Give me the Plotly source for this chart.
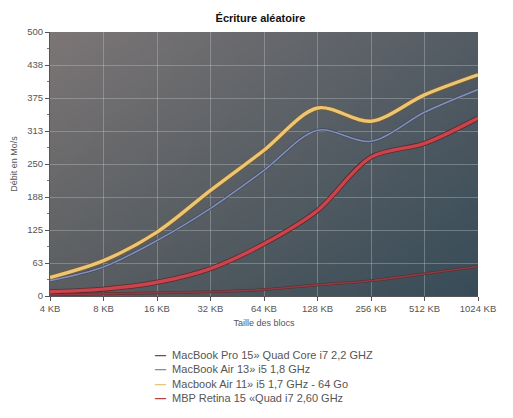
import base64, struct, zlib
import plotly.graph_objects as go

categories = ["4 KB", "8 KB", "16 KB", "32 KB", "64 KB", "128 KB", "256 KB", "512 KB", "1024 KB"]
pro15 = [2, 4, 6, 8, 12, 21, 29, 42, 56]
air13 = [29, 55, 105, 166, 238, 314, 293, 348, 391]
air11 = [35, 67, 121, 200, 276, 356, 331, 381, 419]
retina = [8, 13, 26, 52, 99, 162, 263, 289, 337]
ytick_vals = [0, 62.5, 125, 187.5, 250, 312.5, 375, 437.5, 500]
ytick_text = ["0", "63", "125", "188", "250", "313", "375", "438", "500"]
names = ["MacBook Pro 15» Quad Core i7 2,2 GHZ", "MacBook Air 13» i5 1,8 GHz",
         "Macbook Air 11» i5 1,7 GHz - 64 Go", "MBP Retina 15 «Quad i7 2,60 GHz"]


def gradient_png(w, h, tl, tr, bl, br):
    rows = b""
    for j in range(h):
        v = j / (h - 1)
        rows += b"\x00"
        for i in range(w):
            u = i / (w - 1)
            px = []
            for k in range(3):
                top = tl[k] * (1 - u) + tr[k] * u
                bot = bl[k] * (1 - u) + br[k] * u
                px.append(int(round(top * (1 - v) + bot * v)))
            rows += bytes(px)
    def chunk(t, d):
        c = struct.pack(">I", len(d)) + t + d
        return c + struct.pack(">I", zlib.crc32(t + d) & 0xffffffff)
    png = b"\x89PNG\r\n\x1a\n"
    png += chunk(b"IHDR", struct.pack(">IIBBBBB", w, h, 8, 2, 0, 0, 0))
    png += chunk(b"IDAT", zlib.compress(rows))
    png += chunk(b"IEND", b"")
    return "data:image/png;base64," + base64.b64encode(png).decode()


bg = gradient_png(64, 64, (124, 118, 118), (84, 92, 100), (90, 94, 97), (56, 76, 88))

fig = go.Figure()

series = [
    (names[0], pro15, "#8e3b44", 1.6, "#5a2a30", 2.6),
    (names[1], air13, "#8390b4", 1.6, "#3c4560", 2.8),
    (names[2], air11, "#ebc674", 3.4, "#7a5a32", 5.0),
    (names[3], retina, "#c9454e", 3.4, "#62262b", 5.0),
]
legend_colors = ["#8e3b44", "#8a8a96", "#e0c880", "#b8404a"]

for (name, vals, col, w, ocol, ow) in series:
    fig.add_trace(go.Scatter(x=categories, y=vals, mode="lines", showlegend=False,
                             hoverinfo="skip",
                             line=dict(color=ocol, width=ow, shape="spline", smoothing=0.9)))
for (name, vals, col, w, ocol, ow) in series:
    fig.add_trace(go.Scatter(x=categories, y=vals, mode="lines", name=name, showlegend=False,
                             line=dict(color=col, width=w, shape="spline", smoothing=0.9)))

fig.add_layout_image(dict(source=bg, xref="paper", yref="paper", x=0, y=1,
                          sizex=1, sizey=1, xanchor="left", yanchor="top",
                          sizing="stretch", layer="below"))

legend_text = "<br>".join(
    f"<span style='color:{c}'><b>—</b></span>&nbsp;&nbsp;{n}"
    for n, c in zip(names, legend_colors))
fig.add_annotation(text=legend_text, xref="paper", yref="paper", x=0.24, y=-0.195,
                   xanchor="left", yanchor="top", align="left", showarrow=False,
                   font=dict(size=11, color="#555555"))

font = "Helvetica, Arial, Liberation Sans, sans-serif"
fig.update_layout(
    width=505, height=410,
    margin=dict(l=42, r=35, t=24, b=122, autoexpand=False),
    paper_bgcolor="white", plot_bgcolor="rgba(0,0,0,0)",
    font=dict(family=font, size=10, color="#555555"),
    title=dict(text="<b>Écriture aléatoire</b>", x=0.5, xanchor="center", y=0.985,
               yanchor="top", font=dict(size=11, color="#111111")),
    xaxis=dict(type="category", range=[0, 8], showgrid=True, automargin=False,
               gridcolor="rgba(200,205,210,0.35)", gridwidth=1,
               showline=True, linecolor="#555555", linewidth=1,
               ticks="outside", ticklen=4, tickcolor="#555555",
               minor=dict(ticks="outside", ticklen=2, tickcolor="#777777"),
               tickfont=dict(size=9.5, color="#555555"),
               title=dict(text="Taille des blocs", font=dict(size=9, color="#555555"), standoff=6),
               zeroline=False, fixedrange=True),
    yaxis=dict(range=[0, 500], tickvals=ytick_vals, ticktext=ytick_text, automargin=False,
               showgrid=True, gridcolor="rgba(200,205,210,0.35)", gridwidth=1,
               showline=True, linecolor="#555555", linewidth=1,
               ticks="outside", ticklen=4, tickcolor="#555555",
               minor=dict(ticks="outside", ticklen=2, tickcolor="#777777", dtick=31.25),
               tickfont=dict(size=9.5, color="#555555"),
               title=dict(text="Débit en Mo/s", font=dict(size=9, color="#555555"), standoff=8),
               zeroline=False, fixedrange=True),
    showlegend=False,
)

fig.write_html("out.html")
